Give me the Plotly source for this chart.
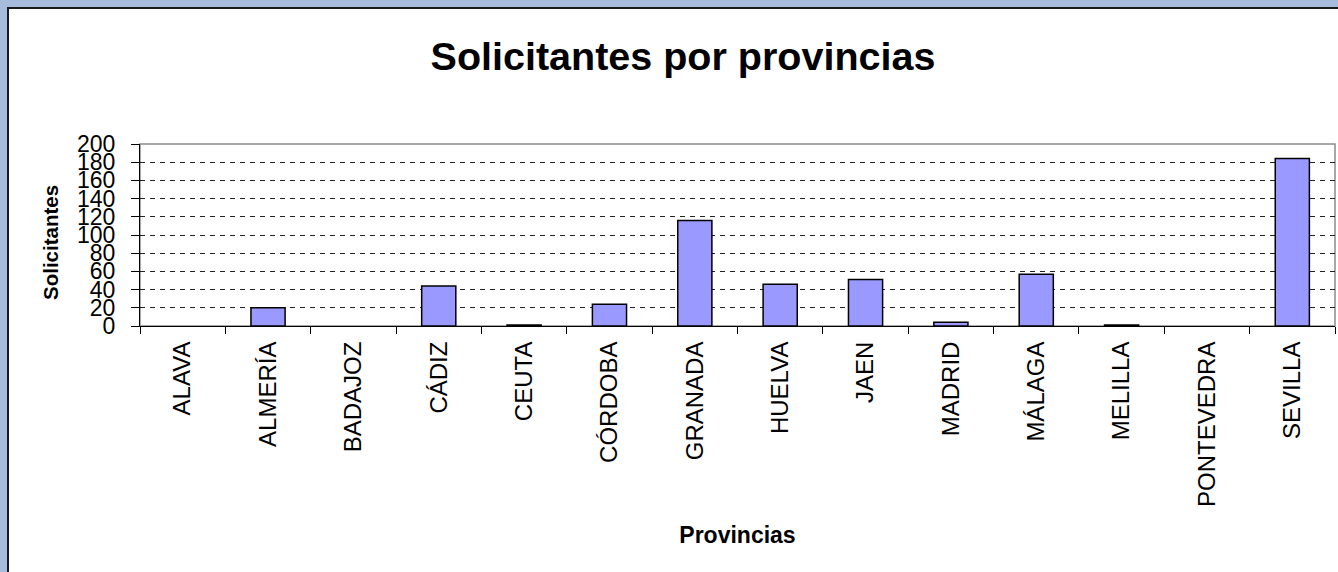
import plotly.graph_objects as go

# ---- data ----
provincias = ["ALAVA", "ALMERÍA", "BADAJOZ", "CÁDIZ", "CEUTA", "CÓRDOBA", "GRANADA",
              "HUELVA", "JAEN", "MADRID", "MÁLAGA", "MELILLA", "PONTEVEDRA", "SEVILLA"]
solicitantes = [0, 20, 0, 44, 1, 24, 116, 46, 51, 4, 57, 1, 0, 184]
y_ticks = [0, 20, 40, 60, 80, 100, 120, 140, 160, 180, 200]

titulo = "Solicitantes por provincias"
titulo_x = "Provincias"
titulo_y = "Solicitantes"

# ---- layout geometry (pixels) ----
W, H = 1338, 572
PL, PR, PT, PB = 140, 1335, 144, 326   # plot area edges
FONT = "Liberation Sans, Arial, sans-serif"


def px_x(p):
    return (p - PL) / (PR - PL)


def px_y(p):
    return (PB - p) / (PB - PT)


fig = go.Figure()
fig.add_trace(go.Bar(
    x=provincias, y=solicitantes,
    marker=dict(color="#9999FF",
                line=dict(color="black", width=[0 if v == 0 else 1.5 for v in solicitantes])),
    width=0.4,
))

shapes = [
    # white chart panel with dark frame
    dict(type="rect", xref="paper", yref="paper",
         x0=px_x(8), x1=px_x(W + 20), y0=px_y(H + 20), y1=px_y(8),
         fillcolor="white", line=dict(color="#1a1a1a", width=2), layer="below"),
    # grey plot area border
    dict(type="rect", xref="paper", yref="paper", x0=0, x1=1, y0=0, y1=1,
         fillcolor="rgba(0,0,0,0)", line=dict(color="#8c8c8c", width=1.5), layer="below"),
]

annotations = [
    dict(text=titulo_y, textangle=-90, showarrow=False,
         xref="paper", yref="paper", x=px_x(50), y=px_y(243),
         xanchor="center", yanchor="middle",
         font=dict(family=FONT, size=20.5, weight="bold", color="black")),
]

fig.update_layout(
    width=W, height=H,
    margin=dict(l=PL, r=W - PR, t=PT, b=H - PB),
    paper_bgcolor="#A7BCDD",
    plot_bgcolor="white",
    showlegend=False,
    shapes=shapes,
    annotations=annotations,
    font=dict(family=FONT, color="black"),
    title=dict(text=titulo, font=dict(family=FONT, size=39.5, weight="bold", color="black"),
               xref="container", x=683 / W, xanchor="center",
               yref="container", y=1 - 56 / H, yanchor="middle"),
    bargap=0.6,
)

fig.update_xaxes(
    type="category",
    showline=True, linecolor="black", linewidth=1,
    ticks="outside", tickson="boundaries", ticklen=7, tickcolor="black", tickwidth=1,
    tickangle=-90, tickfont=dict(family=FONT, size=24, color="black"),
    ticklabelstandoff=5,
    showgrid=False,
    title=dict(text=titulo_x, font=dict(family=FONT, size=23, weight="bold", color="black"),
               standoff=20),
)

fig.update_yaxes(
    range=[0, 200], tickvals=y_ticks, ticktext=[str(v) for v in y_ticks],
    showline=True, linecolor="black", linewidth=1,
    ticks="outside", ticklen=8, tickcolor="black", tickwidth=1,
    tickfont=dict(family=FONT, size=23, color="black"),
    ticklabelstandoff=11,
    showgrid=True, gridcolor="#222222", gridwidth=1, griddash="5px,5px",
    zeroline=False,
)

fig.write_html(
    "out.html",
    config={"displayModeBar": False},
    post_script="document.body.style.margin='0';document.body.style.overflow='hidden';",
)
